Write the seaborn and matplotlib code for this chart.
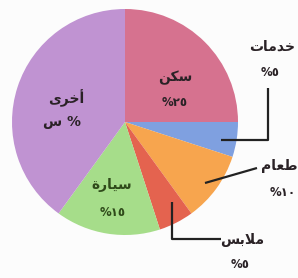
import matplotlib
matplotlib.use("Agg")
import matplotlib.pyplot as plt
import seaborn as sns

# Data (Arabic text stored in visual order with presentation forms)
categories = ["\uFEE6\uFEDC\uFEB3",            # سكن
              "\uFE95\uFE8E\uFEE3\uFEAA\uFEA7",  # خدمات
              "\uFEE1\uFE8E\uFECC\uFEC3",        # طعام
              "\uFEB2\uFE91\uFEFC\uFEE3",        # ملابس
              "\uFE93\uFEAD\uFE8E\uFEF4\uFEB3",  # سيارة
              "\uFEEF\uFEAE\uFEA7\uFE83"]        # أخرى
values = [25, 5, 10, 5, 15, 40]
value_labels = ["%\u0662\u0665", "%\u0665", "%\u0661\u0660", "%\u0665", "%\u0661\u0665", "\uFEB1 %"]
colors = ["#d6728f", "#7fa0e0", "#f7a54e", "#e4634f", "#a6dd8a", "#c093d2"]

sns.set_theme(style="white")
plt.rcParams['font.family'] = ['DejaVu Sans', 'Noto Sans']

W, H = 298, 278
fig = plt.figure(figsize=(W / 100, H / 100), dpi=100)
fig.patch.set_facecolor("#fcfcfc")
ax = fig.add_axes([0, 0, 1, 1])

cx, cy, r = 125, 122, 113
# y-axis inverted: counterclock=True gives visual clockwise order
ax.pie(values, colors=colors, startangle=-90, counterclock=True,
       center=(cx, cy), radius=r, frame=True,
       wedgeprops=dict(linewidth=0))
ax.set_xlim(0, W)
ax.set_ylim(H, 0)
ax.set_aspect("equal")
ax.axis("off")

tk = dict(ha="center", va="center", fontsize=10, fontweight="bold", color="#2a2226")
nk = dict(ha="center", va="center", fontsize=8.5, fontweight="bold", color="#2a2226")

# inside labels
ax.text(175, 78, categories[0], **tk)
ax.text(175, 103, value_labels[0], **nk)
ax.text(66, 98, categories[5], **tk)
ax.text(62, 122, value_labels[5], **tk)
ax.text(112, 185, categories[4], color="#2f4a1a", ha="center", va="center", fontsize=10, fontweight="bold")
ax.text(113, 212, value_labels[4], color="#2f4a1a", ha="center", va="center", fontsize=8.5, fontweight="bold")

# outside labels
ax.text(272, 47, categories[1], **tk)
ax.text(270, 73, value_labels[1], **nk)
ax.text(297, 166, categories[2], ha="right", va="center", fontsize=10, fontweight="bold", color="#2a2226")
ax.text(296, 193, value_labels[2], ha="right", va="center", fontsize=8.5, fontweight="bold", color="#2a2226")
ax.text(242, 240, categories[3], **tk)
ax.text(240, 265, value_labels[3], **nk)

lk = dict(color="#222222", lw=1.6, solid_capstyle="butt")
ax.plot([221, 268, 268], [140, 140, 88], **lk)
ax.plot([205, 257], [183, 168], **lk)
ax.plot([172, 172, 221], [202, 239, 239], **lk)

fig.savefig("out.png", dpi=100, facecolor=fig.get_facecolor())
